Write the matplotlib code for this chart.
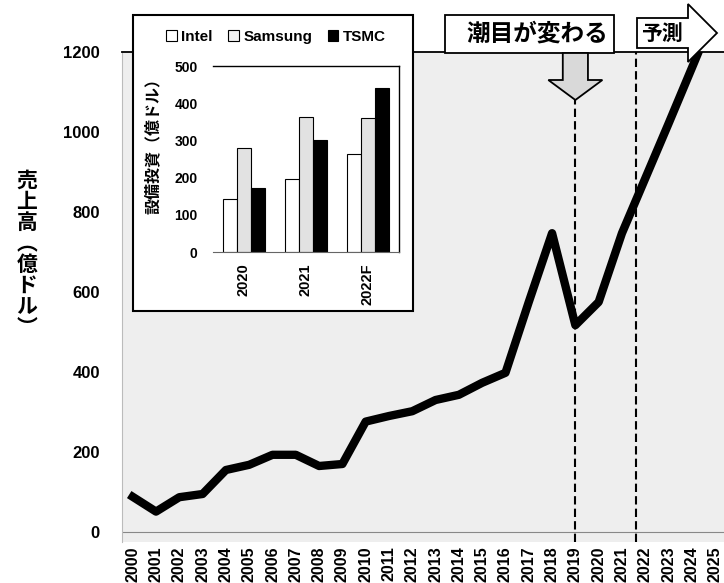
import matplotlib
matplotlib.use("Agg")
import matplotlib.pyplot as plt
import matplotlib.transforms as mtrans
from matplotlib.patches import Rectangle, Polygon, Patch

plt.rcParams['font.family'] = ['Liberation Sans Narrow', 'Liberation Sans', 'Noto Sans CJK JP', 'DejaVu Sans']
plt.rcParams['font.weight'] = 'bold'
CJK = ['Noto Sans CJK JP', 'DejaVu Sans']

# main chart: revenue (100M USD)
years = list(range(2000, 2026))
sales = [88, 51, 87, 95, 155, 168, 193, 193, 165, 170, 276, 290, 302, 330,
         343, 373, 398, 575, 747, 517, 575, 747, 884, 1021, 1160, 1300]
turn_year = 2019
forecast_start = 2021.6

# inset: capex (100M USD)
capex_years = ['2020', '2021', '2022F']
intel = [142, 195, 264]
samsung = [279, 363, 359]
tsmc = [171, 300, 441]

W, H = 724, 583
def fx(p):
    return p / W
def fy(p):
    return 1 - p / H

fig = plt.figure(figsize=(7.24, 5.83), dpi=100)

ax = fig.add_axes([fx(122), fy(542), fx(602), 490 / H])
ax.set_facecolor('#eeeeee')
ax.plot(years, sales, color='black', lw=6, zorder=3)
ax.axhline(0, color='#888888', lw=0.8, zorder=1)
ax.axvline(turn_year, ymin=0, ymax=(542 - 100) / 490, color='black', lw=1.5,
           linestyle=(0, (4, 2)), zorder=2)
ax.axvline(forecast_start, color='black', lw=1.5, linestyle=(0, (4, 2)), zorder=2)

ax.set_xlim(1999.54, 2025.38)
ax.set_ylim(-25, 1200)
ax.set_xticks(years)
ax.set_xticklabels([str(y) for y in years], rotation=90, fontsize=11.5, fontweight='bold')
ax.set_yticks(range(0, 1201, 200))
ax.set_yticklabels([str(v) for v in range(0, 1201, 200)], fontsize=12, fontweight='bold')
ax.tick_params(axis='y', length=0, pad=16)
ax.tick_params(axis='x', length=0, pad=3)
ax.spines['top'].set_color('black')
ax.spines['top'].set_linewidth(1.3)
ax.spines['left'].set_color('#bbbbbb')
ax.spines['right'].set_visible(False)
ax.spines['bottom'].set_visible(False)

fig.text(fx(27), fy(254), '\n'.join('売上高︵億ドル︶'), fontsize=15, family=CJK,
         fontweight='bold', ha='center', va='center', linespacing=1.0)

# callout "潮目が変わる" with down arrow at turning year
fig.add_artist(Rectangle((fx(445), fy(53)), fx(169), 38 / H, transform=fig.transFigure,
                         facecolor='white', edgecolor='black', lw=1.3, zorder=10))
fig.text(fx(537), fy(34), '潮目が変わる', fontsize=17, family=CJK, fontweight='bold',
         ha='center', va='center', zorder=11)
btrans = mtrans.blended_transform_factory(ax.transData, fig.transFigure)
sw, hw = 0.54, 1.16
arrow_pts = [(turn_year - sw, fy(53)), (turn_year + sw, fy(53)), (turn_year + sw, fy(80)),
             (turn_year + hw, fy(80)), (turn_year, fy(100)), (turn_year - hw, fy(80)),
             (turn_year - sw, fy(80))]
fig.add_artist(Polygon(arrow_pts, closed=True, transform=btrans, facecolor='#d9d9d9',
                       edgecolor='black', lw=1.3, zorder=10))

# forecast arrow
fc_pts = [(637, 18), (688, 18), (688, 4), (717, 33), (688, 62), (688, 48), (637, 48)]
fig.add_artist(Polygon([(fx(a), fy(b)) for a, b in fc_pts], closed=True,
                       transform=fig.transFigure, facecolor='white', edgecolor='black',
                       lw=1.3, zorder=10))
fig.text(fx(662), fy(33), '予測', fontsize=15, family=CJK, fontweight='bold',
         ha='center', va='center', zorder=11)

# inset frame
fig.add_artist(Rectangle((fx(133), fy(311)), fx(280), 296 / H, transform=fig.transFigure,
                         facecolor='white', edgecolor='black', lw=1.5, zorder=5))

axin = fig.add_axes([fx(213), fy(252), fx(186), 186 / H])
axin.set_zorder(6)
axin.set_facecolor('none')
w = 0.23
xs = range(len(capex_years))
axin.bar([x - w for x in xs], intel, width=w, color='white', edgecolor='black', lw=0.8)
axin.bar(list(xs), samsung, width=w, color='#e2e2e2', edgecolor='black', lw=0.8)
axin.bar([x + w for x in xs], tsmc, width=w, color='black', edgecolor='black', lw=0.8)
axin.set_xlim(-0.5, 2.5)
axin.set_ylim(0, 500)
axin.set_yticks(range(0, 501, 100))
axin.set_yticklabels([str(v) for v in range(0, 501, 100)], fontsize=10, fontweight='bold')
axin.set_xticks(list(xs))
axin.set_xticklabels(capex_years, rotation=90, fontsize=10.5, fontweight='bold')
axin.tick_params(axis='y', length=0, pad=11)
axin.tick_params(axis='x', length=0, pad=8)
axin.spines['left'].set_visible(False)
axin.spines['bottom'].set_color('#666666')
axin.spines['bottom'].set_linewidth(0.8)
for s in ['top', 'right']:
    axin.spines[s].set_linewidth(1.0)

fig.text(fx(153), fy(142), '設備投資（億ドル）', rotation=90, fontsize=11.5, family=CJK,
         fontweight='bold', ha='center', va='center', zorder=7)

handles = [Patch(facecolor='white', edgecolor='black', lw=0.8),
           Patch(facecolor='#f2f2f2', edgecolor='black', lw=0.8),
           Patch(facecolor='black', edgecolor='black', lw=0.8)]
leg = fig.legend(handles, ['Intel', 'Samsung', 'TSMC'], loc='center',
                 bbox_to_anchor=(fx(276), fy(37)), ncol=3, frameon=False,
                 handlelength=0.7, handleheight=0.7, handletextpad=0.3,
                 columnspacing=1.0, prop={'size': 11, 'weight': 'bold'})
leg.set_zorder(7)

fig.savefig('out.png', dpi=100)
